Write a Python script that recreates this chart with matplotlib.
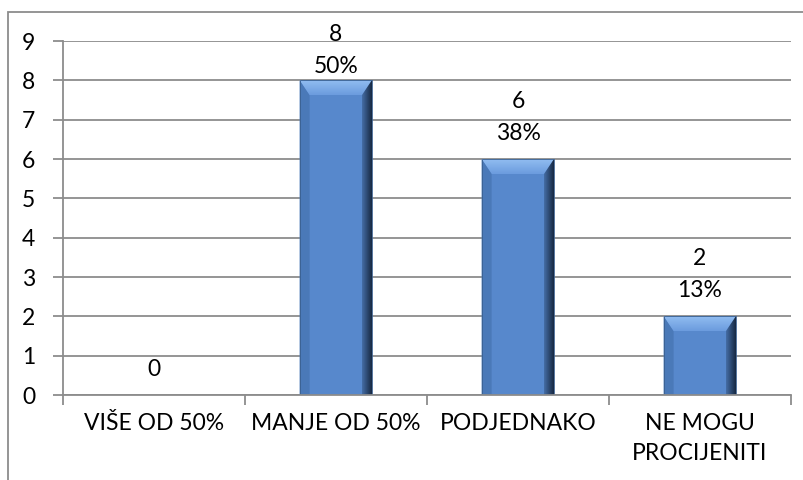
import matplotlib.pyplot as plt
import numpy as np
from matplotlib.patches import Polygon, Rectangle

# podaci
kategorije = ['VIŠE OD 50%', 'MANJE OD 50%', 'PODJEDNAKO', 'NE MOGU\nPROCIJENITI']
vrijednosti = [0, 8, 6, 2]
postotci = ['', '50%', '38%', '13%']

plt.rcParams['font.family'] = ['Lato', 'DejaVu Sans']

fig = plt.figure(figsize=(8.04, 4.8), dpi=100)
ax = fig.add_axes([63 / 804, 1 - 395 / 480, 728 / 804, 354 / 480])

x = np.arange(len(kategorije))
sirina = 0.4
stupci = ax.bar(x, vrijednosti, width=sirina, color='#5788CC', zorder=3)

ax.set_xlim(-0.5, len(kategorije) - 0.5)
ax.set_ylim(0, 9)
ax.set_yticks(range(10))
ax.yaxis.grid(True, color='#8C8C8C', linewidth=1.3, zorder=0)

# bevel efekt na stupcima
bx = 10 / 182.0
by = 15 / 39.3
for s in stupci:
    x0 = s.get_x()
    x1 = x0 + s.get_width()
    t = s.get_height()
    if t <= 0:
        continue
    gore = Polygon([(x0, t), (x1, t), (x1 - bx, t - by), (x0 + bx, t - by)],
                   closed=True, facecolor='none', edgecolor='none', zorder=4)
    ax.add_patch(gore)
    g = np.linspace(0, 1, 50).reshape(-1, 1)
    c1 = np.array([0.58, 0.75, 0.95])
    c2 = np.array([0.42, 0.61, 0.87])
    img = c1 * (1 - g[..., None]) + c2 * g[..., None]
    im = ax.imshow(img, extent=[x0, x1, t - by, t], origin='upper', aspect='auto', zorder=4)
    im.set_clip_path(gore)

    desno = Polygon([(x1, t), (x1, 0), (x1 - bx, 0), (x1 - bx, t - by)],
                    closed=True, facecolor='none', edgecolor='none', zorder=4)
    ax.add_patch(desno)
    g = np.linspace(0, 1, 50).reshape(1, -1)
    c1 = np.array([0.27, 0.43, 0.65])
    c2 = np.array([0.09, 0.16, 0.26])
    img = c1 * (1 - g[..., None]) + c2 * g[..., None]
    im = ax.imshow(img, extent=[x1 - bx, x1, 0, t], aspect='auto', zorder=4)
    im.set_clip_path(desno)

    lijevo = Polygon([(x0, t), (x0 + bx, t - by), (x0 + bx, 0), (x0, 0)],
                     closed=True, facecolor='#4A79B8', edgecolor='none', zorder=4)
    ax.add_patch(lijevo)
    ax.add_patch(Rectangle((x0, 0), x1 - x0, t, facecolor='none',
                           edgecolor='#3A5F8F', linewidth=0.6, zorder=5))

# oznake iznad stupaca
oznake = []
for xi, v, p in zip(x, vrijednosti, postotci):
    tekst = str(v) if p == '' else f'{v}\n{p}'
    a = ax.annotate(tekst, (xi, v), xytext=(0, 11), textcoords='offset points',
                    ha='center', va='bottom', fontsize=16.5, linespacing=1.65,
                    annotation_clip=False)
    oznake.append(a)

ax.set_xticks(x)
ax.set_xticklabels(kategorije, fontsize=16.5, linespacing=1.5)
ax.set_xticks(np.arange(-0.5, len(kategorije)), minor=True)
ax.tick_params(axis='x', which='major', length=0, pad=13)
ax.tick_params(axis='x', which='minor', length=7, color='#8C8C8C', width=1.3)
ax.tick_params(axis='y', length=7, color='#8C8C8C', width=1.3, labelsize=16.5, pad=13)

for strana in ['top', 'right']:
    ax.spines[strana].set_visible(False)
for strana in ['left', 'bottom']:
    ax.spines[strana].set_color('#8C8C8C')
    ax.spines[strana].set_linewidth(1.3)
    ax.spines[strana].set_zorder(6)

# okvir oko grafikona
fig.patches.append(Rectangle((8 / 804, -0.1), 1.2, 1 - 12 / 480 + 0.1,
                             transform=fig.transFigure, fill=False,
                             edgecolor='#8C8C8C', linewidth=1.3))

# oznake koje izlaze iz okvira pomakni dolje (kao Excel)
fig.canvas.draw()
r = fig.canvas.get_renderer()
granica = fig.bbox.height - 24
for a in oznake:
    bb = a.get_window_extent(r)
    if bb.y1 > granica:
        dx, dy = a.xyann
        a.xyann = (dx, dy - (bb.y1 - granica) * 72 / fig.dpi)

plt.savefig('out.png', dpi=100)
